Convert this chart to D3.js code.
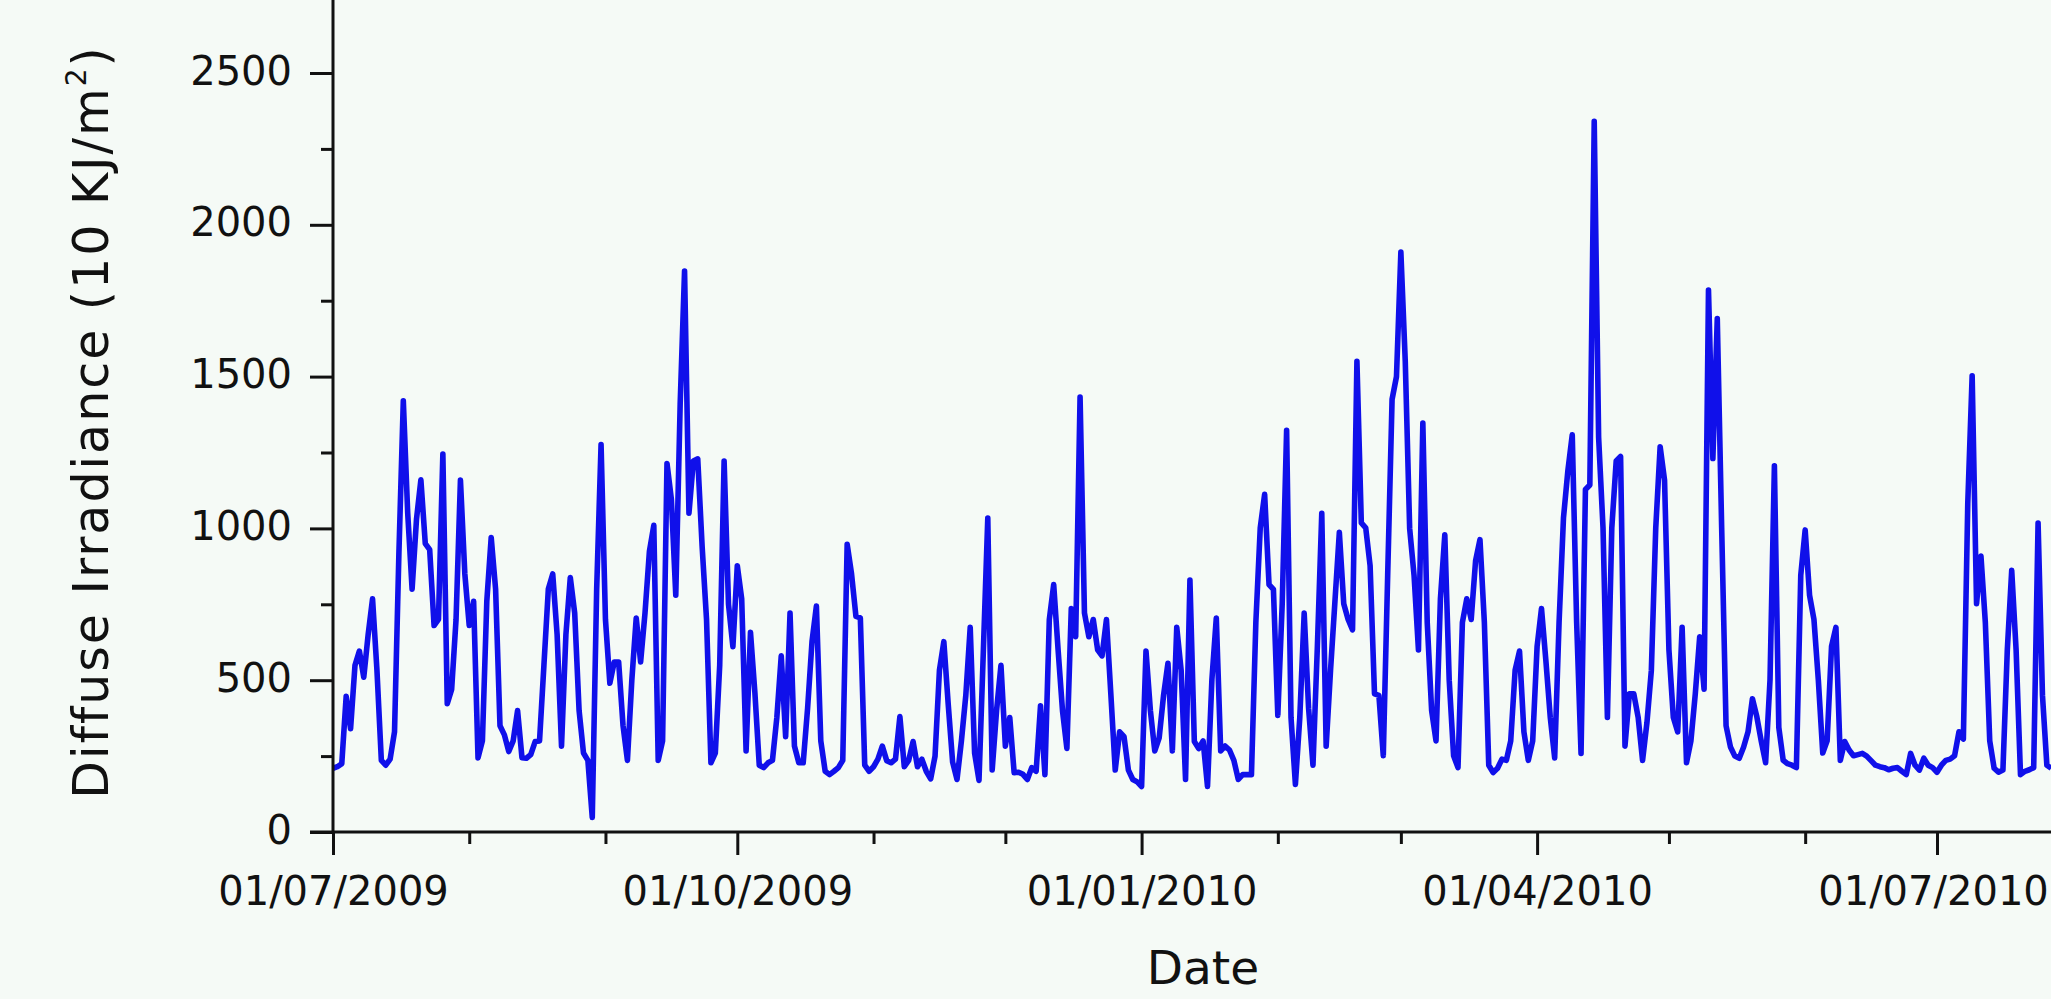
<!DOCTYPE html>
<html>
<head>
<meta charset="utf-8">
<script src="https://cdn.jsdelivr.net/npm/d3@7"></script>
<style>
  html, body { margin: 0; padding: 0; background: #f5faf6; }
  svg { display: block; }
  text { font-family: "DejaVu Sans", Verdana, sans-serif; fill: #111; }
</style>
</head>
<body>
<script>
// Daily diffuse irradiance (10 KJ/m²), one array per month, starting 1 July 2009
const jul2009 = [210,215,225,447,340,549,596,510,650,768,533,236,220,240,330,920,1420,1050,800,1030,1160,950,930,680,700,1245,423,470,700,1159,850];
const aug2009 = [680,760,244,300,760,970,800,350,320,265,300,400,245,243,255,298,300,550,800,850,650,283,650,838,721,400,260,236,48,800,1276];
const sep2009 = [700,490,560,560,350,236,500,705,560,721,924,1010,236,300,1214,1096,780,1409,1848,1050,1222,1229,940,700,228,260,550,1222,750,610];
const oct2009 = [877,768,267,658,460,220,212,228,236,377,580,314,721,283,228,228,408,627,744,300,200,189,200,212,236,948,850,710,705,220,200];
const nov2009 = [215,240,283,235,228,240,380,215,236,298,215,240,200,175,250,533,627,420,230,173,300,450,674,260,170,600,1034,204,400,549];
const dec2009 = [283,377,195,197,190,173,212,200,416,189,700,815,600,400,275,736,643,1433,721,643,700,600,580,700,455,204,330,314,204,173,165];
const jan2010 = [150,596,400,267,310,450,556,267,674,533,173,830,298,275,300,150,502,705,267,283,270,236,173,189,189,189,690,1002,1112,815,799];
const feb2010 = [384,752,1323,377,157,377,721,408,220,611,1050,283,533,760,987,752,700,666,1550,1018,1002,877,455,450,251,846,1425,1500];
const mar2010 = [1910,1550,1000,846,600,1347,690,400,300,768,979,500,251,212,690,768,700,893,963,690,220,196,210,240,236,300,533,596,330,236,300];
const apr2010 = [611,736,564,377,244,690,1034,1190,1308,690,259,1128,1143,2341,1300,1002,377,1002,1222,1237,283,455,455,377,236,361,533,1002,1269,1159];
const may2010 = [600,377,330,674,228,300,455,643,470,1785,1230,1691,1002,350,280,250,243,280,330,439,380,300,228,500,1206,345,236,225,220,212,846];
const jun2010 = [995,780,700,500,260,300,611,674,236,298,270,251,255,259,250,235,220,215,212,205,210,212,200,189,259,220,204,243,220,212];
const jul2010 = [197,220,236,240,251,330,306,1081,1503,752,909,690,300,210,197,204,600,862,600,189,200,205,212,1018,450,220,210];

const firstDay = "01/07/2009";
const majorTickLabels = ["01/07/2009", "01/10/2009", "01/01/2010", "01/04/2010", "01/07/2010"];
const yTickValues = [0, 500, 1000, 1500, 2000, 2500];
const yMinorTickValues = [250, 750, 1250, 1750, 2250];
const xTitle = "Date";
const yTitle = "Diffuse Irradiance (10 KJ/m";

const W = 2051, H = 999;
const parse = d3.utcParse("%d/%m/%Y");
const fmt = d3.utcFormat("%d/%m/%Y");
const start = parse(firstDay);

const values = [].concat(jul2009, aug2009, sep2009, oct2009, nov2009, dec2009,
                         jan2010, feb2010, mar2010, apr2010, may2010, jun2010, jul2010);
const series = values.map((v, i) => ({ date: d3.utcDay.offset(start, i), value: v }));

const majors = majorTickLabels.map(parse);
const x = d3.scaleUtc().domain([majors[0], majors[majors.length - 1]]).range([333, 1937]);
const y = d3.scaleLinear().domain([0, 2500]).range([832, 73]);

const svg = d3.select("body").append("svg")
  .attr("width", W).attr("height", H)
  .attr("viewBox", `0 0 ${W} ${H}`);

svg.append("rect").attr("width", W).attr("height", H).attr("fill", "#f5faf6");

// data line
svg.append("path")
  .datum(series)
  .attr("fill", "none")
  .attr("stroke", "#1010ea")
  .attr("stroke-width", 5.6)
  .attr("stroke-linejoin", "round")
  .attr("d", d3.line().x(d => x(d.date)).y(d => y(d.value)));

const axisColor = "#111";

// minor monthly ticks on the date axis
const minorMonths = d3.utcMonth.range(majors[0], d3.utcMonth.offset(majors[majors.length - 1], 3))
  .filter(d => !majors.some(m => +m === +d));
const gxMinor = svg.append("g").attr("transform", `translate(0,${y(0)})`)
  .call(d3.axisBottom(x).tickValues(minorMonths).tickSize(12).tickSizeOuter(0).tickFormat(""));

const gx = svg.append("g").attr("transform", `translate(0,${y(0)})`)
  .call(d3.axisBottom(x).tickValues(majors).tickSize(23).tickSizeOuter(0).tickFormat(fmt));
gx.selectAll("text")
  .attr("y", 73).attr("dy", 0)
  .attr("x", (d, i, n) => (i === n.length - 1 ? -4 : 0))
  .style("font-size", "40px")
  .attr("fill", axisColor);

const gyMinor = svg.append("g").attr("transform", `translate(${x(majors[0])},0)`)
  .call(d3.axisLeft(y).tickValues(yMinorTickValues).tickSize(12).tickSizeOuter(0).tickFormat(""));

const gy = svg.append("g").attr("transform", `translate(${x(majors[0])},0)`)
  .call(d3.axisLeft(y).tickValues(yTickValues).tickSize(23).tickSizeOuter(0).tickFormat(d3.format("d")));
gy.selectAll("text")
  .attr("x", -41).attr("dy", "11px")
  .style("font-size", "40px")
  .attr("fill", axisColor);

[gx, gxMinor, gy, gyMinor].forEach(g => {
  g.select(".domain").remove();
  g.selectAll(".tick line").attr("stroke", axisColor).attr("stroke-width", 3);
});

// axis lines
svg.append("line")
  .attr("x1", x(majors[0])).attr("x2", x(majors[0]))
  .attr("y1", 0).attr("y2", y(0) + 1.5)
  .attr("stroke", axisColor).attr("stroke-width", 3);
svg.append("line")
  .attr("x1", x(majors[0]) - 23).attr("x2", W)
  .attr("y1", y(0)).attr("y2", y(0))
  .attr("stroke", axisColor).attr("stroke-width", 3);

// axis titles
svg.append("text")
  .attr("x", 1203).attr("y", 984)
  .attr("text-anchor", "middle")
  .style("font-size", "47px")
  .text(xTitle);

const yt = svg.append("text")
  .attr("transform", "translate(108,422) rotate(-90)")
  .attr("text-anchor", "middle")
  .style("font-size", "49px")
  .style("letter-spacing", "2px");
yt.append("tspan").text(yTitle);
yt.append("tspan").attr("dy", "-22px").style("font-size", "28px").text("2");
yt.append("tspan").attr("dy", "22px").text(")");
</script>
</body>
</html>
